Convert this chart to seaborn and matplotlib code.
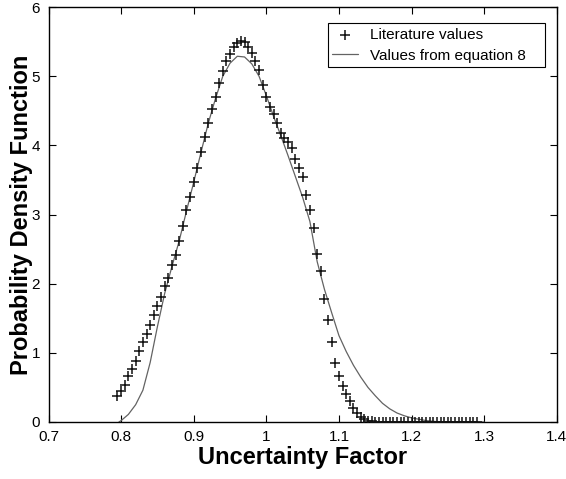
import matplotlib
matplotlib.use("Agg")
import matplotlib.pyplot as plt
import seaborn as sns

# literature values (+ markers)
lit_x = [0.795, 0.800, 0.805, 0.810, 0.815, 0.820, 0.825, 0.830, 0.835, 0.840,
         0.845, 0.850, 0.855, 0.860, 0.865, 0.870, 0.875, 0.880, 0.885, 0.890,
         0.895, 0.900, 0.905, 0.910, 0.915, 0.920, 0.925, 0.930, 0.935, 0.940,
         0.945, 0.950, 0.955, 0.960, 0.965, 0.970, 0.975, 0.980, 0.985, 0.990,
         0.995, 1.000, 1.005, 1.010, 1.015, 1.020, 1.025, 1.030, 1.035, 1.040,
         1.045, 1.050, 1.055, 1.060, 1.065, 1.070, 1.075, 1.080, 1.085, 1.090,
         1.095, 1.100, 1.105, 1.110, 1.115, 1.120, 1.125, 1.130, 1.135, 1.140,
         1.145, 1.150, 1.155, 1.160, 1.165, 1.170, 1.175, 1.180, 1.185, 1.190,
         1.195, 1.200, 1.205, 1.210, 1.215, 1.220, 1.225, 1.230, 1.235, 1.240,
         1.245, 1.250, 1.255, 1.260, 1.265, 1.270, 1.275, 1.280, 1.285, 1.290]
lit_y = [0.38, 0.45, 0.54, 0.66, 0.77, 0.88, 1.02, 1.15, 1.27, 1.41,
         1.55, 1.68, 1.81, 1.96, 2.08, 2.27, 2.41, 2.62, 2.83, 3.07,
         3.25, 3.47, 3.67, 3.91, 4.12, 4.33, 4.53, 4.70, 4.90, 5.08,
         5.22, 5.33, 5.42, 5.48, 5.51, 5.49, 5.42, 5.34, 5.22, 5.09,
         4.88, 4.70, 4.56, 4.46, 4.33, 4.18, 4.11, 4.05, 3.96, 3.81,
         3.67, 3.54, 3.28, 3.06, 2.80, 2.43, 2.18, 1.78, 1.48, 1.15,
         0.85, 0.67, 0.52, 0.40, 0.30, 0.20, 0.13, 0.07, 0.04, 0.02,
         0.01, 0.00, 0.00, 0.00, 0.00, 0.00, 0.00, 0.00, 0.00, 0.00,
         0.00, 0.00, 0.00, 0.00, 0.00, 0.00, 0.00, 0.00, 0.00, 0.00,
         0.00, 0.00, 0.00, 0.00, 0.00, 0.00, 0.00, 0.00, 0.00, 0.00]

# values from equation 8 (thin line)
eq_x = [0.797, 0.80, 0.81, 0.82, 0.83, 0.84, 0.85, 0.86, 0.87, 0.88, 0.89,
        0.90, 0.91, 0.92, 0.93, 0.94, 0.95, 0.96, 0.97, 0.98, 0.99,
        1.00, 1.01, 1.02, 1.03, 1.04, 1.05, 1.06, 1.07, 1.08, 1.09,
        1.10, 1.11, 1.12, 1.13, 1.14, 1.15, 1.16, 1.17, 1.18, 1.19,
        1.20, 1.21, 1.22, 1.23, 1.24, 1.30]
eq_y = [0.00, 0.02, 0.11, 0.25, 0.46, 0.86, 1.38, 1.86, 2.25, 2.62, 3.05,
        3.47, 3.90, 4.32, 4.68, 5.00, 5.19, 5.29, 5.28, 5.18, 5.00,
        4.72, 4.42, 4.14, 3.85, 3.55, 3.25, 2.90, 2.32, 1.92, 1.58,
        1.25, 1.02, 0.82, 0.65, 0.50, 0.38, 0.27, 0.19, 0.13, 0.09,
        0.06, 0.04, 0.02, 0.01, 0.00, 0.00]

x_ticks = [0.7, 0.8, 0.9, 1.0, 1.1, 1.2, 1.3, 1.4]
x_labels = ["0.7", "0.8", "0.9", "1", "1.1", "1.2", "1.3", "1.4"]
y_ticks = [0, 1, 2, 3, 4, 5, 6]

sns.set_theme(style="ticks")
plt.rcParams["font.family"] = ["Liberation Sans", "DejaVu Sans"]
plt.rcParams["axes.edgecolor"] = "black"
plt.rcParams["text.color"] = "black"
plt.rcParams["axes.labelcolor"] = "black"

fig = plt.figure(figsize=(5.66, 4.79), dpi=100)
ax = fig.add_axes([0.0857, 0.119, 0.898, 0.866])

sns.scatterplot(x=lit_x, y=lit_y, marker="+", s=55, color="#111111",
                linewidth=1.1, label="Literature values", ax=ax, zorder=3)
sns.lineplot(x=eq_x, y=eq_y, color="#636363", linewidth=0.9,
             label="Values from equation 8", ax=ax, zorder=2)

ax.set_xlim(0.7, 1.4)
ax.set_ylim(0, 6)
ax.set_xticks(x_ticks)
ax.set_xticklabels(x_labels)
ax.set_yticks(y_ticks)
ax.tick_params(direction="in", top=True, right=True, length=5, width=0.8,
               labelsize=11, colors="black", pad=6)
for s in ax.spines.values():
    s.set_visible(True)
    s.set_linewidth(1.0)
    s.set_color("black")

ax.set_xlabel("Uncertainty Factor", fontsize=17, fontweight="bold", labelpad=1)
ax.set_ylabel("Probability Density Function", fontsize=17, fontweight="bold", labelpad=-1)

# legend box pinned to the same spot as in the original
leg = ax.legend(loc="upper left", bbox_to_anchor=(0.549, 0.5, 0.427, 0.461),
                mode="expand", fontsize=11,
                frameon=True, fancybox=False, framealpha=1, edgecolor="black",
                handlelength=1.7, borderpad=0.3, labelspacing=0.45,
                handletextpad=0.8, borderaxespad=0)
leg.get_frame().set_linewidth(0.8)

fig.savefig("out.png", dpi=100)
